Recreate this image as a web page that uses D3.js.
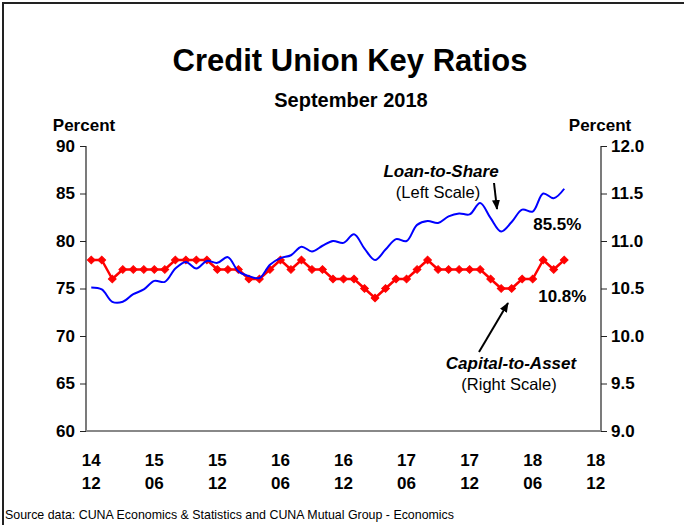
<!DOCTYPE html>
<html>
<head>
<meta charset="utf-8">
<script src="https://cdn.jsdelivr.net/npm/d3@7/dist/d3.min.js"></script>
<style>
  html, body { margin: 0; padding: 0; background: #fff; }
  svg { display: block; font-family: "Liberation Sans", Arial, sans-serif; }
</style>
</head>
<body>
<svg id="chart" width="684" height="525"></svg>
<script>
// Monthly categories, Dec 2014 through Dec 2018
const months = [
  "2014-12",
  "2015-01","2015-02","2015-03","2015-04","2015-05","2015-06","2015-07","2015-08","2015-09","2015-10","2015-11","2015-12",
  "2016-01","2016-02","2016-03","2016-04","2016-05","2016-06","2016-07","2016-08","2016-09","2016-10","2016-11","2016-12",
  "2017-01","2017-02","2017-03","2017-04","2017-05","2017-06","2017-07","2017-08","2017-09","2017-10","2017-11","2017-12",
  "2018-01","2018-02","2018-03","2018-04","2018-05","2018-06","2018-07","2018-08","2018-09","2018-10","2018-11","2018-12"
];

// Loan-to-share ratio (%), left scale, Dec 2014 - Sep 2018
const loanToShare = [
  75.1, 74.9, 73.6, 73.6, 74.4, 74.9, 75.8, 75.7, 77.1, 77.8, 77.1, 77.9,
  77.7, 78.3, 76.8, 76.3, 76.1, 77.5, 78.2, 78.5, 79.4, 78.9, 79.5, 80.0,
  79.8, 80.7, 79.2, 78.0, 79.1, 80.2, 80.0, 81.7, 82.1, 81.9, 82.6, 82.9,
  82.8, 84.0, 82.4, 81.0, 82.0, 83.3, 83.1, 85.0, 84.5, 85.5
];

// Capital-to-asset ratio (%), right scale, Dec 2014 - Sep 2018
const capitalToAsset = [
  10.8, 10.8, 10.6, 10.7, 10.7, 10.7, 10.7, 10.7, 10.8, 10.8, 10.8, 10.8,
  10.7, 10.7, 10.7, 10.6, 10.6, 10.7, 10.8, 10.7, 10.8, 10.7, 10.7, 10.6,
  10.6, 10.6, 10.5, 10.4, 10.5, 10.6, 10.6, 10.7, 10.8, 10.7, 10.7, 10.7,
  10.7, 10.7, 10.6, 10.5, 10.5, 10.6, 10.6, 10.8, 10.7, 10.8
];

// Axis ticks
const leftTicks = [60, 65, 70, 75, 80, 85, 90];
const rightTicks = [9.0, 9.5, 10.0, 10.5, 11.0, 11.5, 12.0];
const xTickMonths = ["2014-12","2015-06","2015-12","2016-06","2016-12","2017-06","2017-12","2018-06","2018-12"];
const xTickYearLabels = ["14","15","15","16","16","17","17","18","18"];
const xTickMonthLabels = ["12","06","12","06","12","06","12","06","12"];

const svg = d3.select("#chart");
const plot = { left: 86, right: 601, top: 146, bottom: 431 };

// Outer frame
svg.append("rect")
  .attr("x", 3).attr("y", 3).attr("width", 700).attr("height", 560)
  .attr("fill", "none").attr("stroke", "#222").attr("stroke-width", 2);

// Scales
const xBand = d3.scaleBand().domain(months).range([plot.left, plot.right]).paddingInner(0).paddingOuter(0);
const xPos = m => xBand(m) + xBand.bandwidth() / 2;
const yLeft = d3.scaleLinear().domain([60, 90]).range([plot.bottom, plot.top]);
const yRight = d3.scaleLinear().domain([9, 12]).range([plot.bottom, plot.top]);

// Titles
svg.append("text").attr("x", 350).attr("y", 71).attr("text-anchor", "middle")
  .attr("font-size", 31).attr("font-weight", "bold").text("Credit Union Key Ratios");
svg.append("text").attr("x", 351).attr("y", 107).attr("text-anchor", "middle")
  .attr("font-size", 20).attr("font-weight", "bold").text("September 2018");

svg.append("text").attr("x", 84).attr("y", 131).attr("text-anchor", "middle")
  .attr("font-size", 17).attr("font-weight", "bold").text("Percent");
svg.append("text").attr("x", 600).attr("y", 131).attr("text-anchor", "middle")
  .attr("font-size", 17).attr("font-weight", "bold").text("Percent");

// Left axis
const leftAxis = d3.axisLeft(yLeft).tickValues(leftTicks).tickFormat(d3.format("d")).tickSize(6).tickPadding(5);
const gL = svg.append("g").attr("transform", `translate(${plot.left},0)`).call(leftAxis);
gL.select(".domain").remove();
gL.selectAll(".tick line").attr("stroke", "#222");
gL.selectAll(".tick text").attr("font-size", 17).attr("font-weight", "bold")
  .attr("font-family", "Liberation Sans, Arial, sans-serif").attr("fill", "#000");

// Right axis
const rightAxis = d3.axisRight(yRight).tickValues(rightTicks).tickFormat(d3.format(".1f")).tickSize(6).tickPadding(4);
const gR = svg.append("g").attr("transform", `translate(${plot.right},0)`).call(rightAxis);
gR.select(".domain").remove();
gR.selectAll(".tick line").attr("stroke", "#222");
gR.selectAll(".tick text").attr("font-size", 17).attr("font-weight", "bold")
  .attr("font-family", "Liberation Sans, Arial, sans-serif").attr("fill", "#000");

// Axis lines
svg.append("line").attr("x1", plot.left).attr("x2", plot.left).attr("y1", plot.top).attr("y2", plot.bottom)
  .attr("stroke", "#222").attr("stroke-width", 1.2);
svg.append("line").attr("x1", plot.right).attr("x2", plot.right).attr("y1", plot.top).attr("y2", plot.bottom)
  .attr("stroke", "#222").attr("stroke-width", 1.2);
svg.append("line").attr("x1", plot.left).attr("x2", plot.right).attr("y1", plot.bottom).attr("y2", plot.bottom)
  .attr("stroke", "#888").attr("stroke-width", 2);

// Bottom category labels (two lines: year / month)
const xg = svg.append("g");
xTickMonths.forEach((m, i) => {
  const t = xg.append("text").attr("x", xPos(m)).attr("text-anchor", "middle")
    .attr("font-size", 17).attr("font-weight", "bold");
  t.append("tspan").attr("x", xPos(m)).attr("y", 466).text(xTickYearLabels[i]);
  t.append("tspan").attr("x", xPos(m)).attr("y", 489).text(xTickMonthLabels[i]);
});

// Capital-to-asset line with diamond markers
const redLine = d3.line().x((d, i) => xPos(months[i])).y(d => yRight(d));
svg.append("path").datum(capitalToAsset).attr("d", redLine)
  .attr("fill", "none").attr("stroke", "#ff0000").attr("stroke-width", 2.5).attr("stroke-linejoin", "round");
const diamond = d3.symbol().type(d3.symbolSquare).size(30);
svg.append("g").selectAll("path").data(capitalToAsset).join("path")
  .attr("d", diamond)
  .attr("transform", (d, i) => `translate(${xPos(months[i])},${yRight(d)}) rotate(45)`)
  .attr("fill", "#ff0000").attr("stroke", "#ff0000").attr("stroke-width", 1);

// Loan-to-share smoothed line
const blueLine = d3.line().x((d, i) => xPos(months[i])).y(d => yLeft(d)).curve(d3.curveCatmullRom.alpha(0.5));
svg.append("path").datum(loanToShare).attr("d", blueLine)
  .attr("fill", "none").attr("stroke", "#0000ff").attr("stroke-width", 2);

// Arrowhead
svg.append("defs").append("marker")
  .attr("id", "arrow").attr("viewBox", "0 0 10 10").attr("refX", 9).attr("refY", 5)
  .attr("markerWidth", 5).attr("markerHeight", 5).attr("orient", "auto")
  .append("path").attr("d", "M0,1 L10,5 L0,9 Z").attr("fill", "#000");

// Annotations
svg.append("text").attr("x", 441).attr("y", 177).attr("text-anchor", "middle")
  .attr("font-size", 17).attr("font-weight", "bold").attr("font-style", "italic").text("Loan-to-Share");
svg.append("text").attr("x", 438).attr("y", 198).attr("text-anchor", "middle")
  .attr("font-size", 16.5).text("(Left Scale)");
svg.append("line").attr("x1", 494).attr("y1", 183).attr("x2", 497).attr("y2", 209)
  .attr("stroke", "#000").attr("stroke-width", 2).attr("marker-end", "url(#arrow)");

svg.append("text").attr("x", 511).attr("y", 369).attr("text-anchor", "middle")
  .attr("font-size", 17).attr("font-weight", "bold").attr("font-style", "italic").text("Capital-to-Asset");
svg.append("text").attr("x", 509).attr("y", 390).attr("text-anchor", "middle")
  .attr("font-size", 16.5).text("(Right Scale)");
svg.append("line").attr("x1", 479).attr("y1", 352).attr("x2", 508).attr("y2", 303)
  .attr("stroke", "#000").attr("stroke-width", 2).attr("marker-end", "url(#arrow)");

// Latest value labels
const lastIdx = loanToShare.length - 1;
const lastLoan = loanToShare[lastIdx];
const lastCap = capitalToAsset[capitalToAsset.length - 1];
svg.append("text").attr("x", xPos(months[lastIdx]) - 31).attr("y", yLeft(lastLoan) + 41)
  .attr("font-size", 17).attr("font-weight", "bold").text(lastLoan.toFixed(1) + "%");
svg.append("text").attr("x", xPos(months[lastIdx]) - 26).attr("y", yRight(lastCap) + 42)
  .attr("font-size", 17).attr("font-weight", "bold").text(lastCap.toFixed(1) + "%");

// Source note
svg.append("text").attr("x", 5).attr("y", 519).attr("font-size", 12.4)
  .text("Source data: CUNA Economics & Statistics and CUNA Mutual Group - Economics");
</script>
</body>
</html>
